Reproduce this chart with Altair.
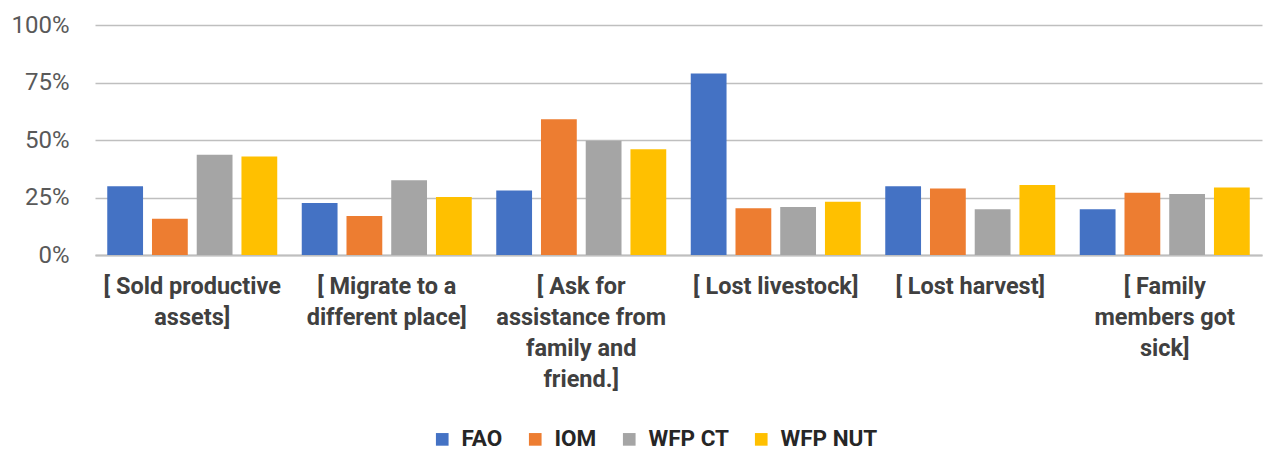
import altair as alt
import pandas as pd

categories = [
    "[ Sold productive|assets]",
    "[ Migrate to a|different place]",
    "[ Ask for|assistance from|family and|friend.]",
    "[ Lost livestock]",
    "[ Lost harvest]",
    "[ Family|members got|sick]",
]
series = ["FAO", "IOM", "WFP CT", "WFP NUT"]
colors = ["#4472C4", "#ED7D31", "#A5A5A5", "#FFC000"]

fao = [0.299, 0.226, 0.280, 0.789, 0.299, 0.199]
iom = [0.158, 0.170, 0.590, 0.203, 0.289, 0.271]
wfp_ct = [0.436, 0.325, 0.497, 0.209, 0.199, 0.265]
wfp_nut = [0.428, 0.252, 0.460, 0.232, 0.304, 0.293]

rows = []
for name, vals in zip(series, [fao, iom, wfp_ct, wfp_nut]):
    for c, v in zip(categories, vals):
        rows.append({"category": c, "series": name, "value": v})
df = pd.DataFrame(rows)

FONT = "Roboto"

chart = alt.Chart(df).mark_bar().encode(
    x=alt.X(
        "category:N",
        sort=categories,
        title=None,
        scale=alt.Scale(paddingInner=0.126, paddingOuter=0.063),
        axis=alt.Axis(
            labelAngle=0,
            labelExpr="split(datum.label, '|')",
            labelFont=FONT,
            labelFontSize=23.5,
            labelFontWeight="bold",
            labelColor="#404040",
            labelLineHeight=31,
            labelPadding=19,
            labelBaseline="top",
            ticks=False,
            domainColor="#BFBFBF",
            domainWidth=2,
            labelLimit=400,
        ),
    ),
    xOffset=alt.XOffset(
        "series:N", sort=series, scale=alt.Scale(paddingInner=0.2, paddingOuter=0)
    ),
    y=alt.Y(
        "value:Q",
        title=None,
        scale=alt.Scale(domain=[0, 1], nice=False),
        axis=alt.Axis(
            values=[0, 0.25, 0.5, 0.75, 1.0],
            format=".0%",
            labelFont=FONT,
            labelFontSize=24,
            labelColor="#595959",
            labelPadding=26,
            ticks=False,
            domain=False,
            gridColor="#BFBFBF",
            gridWidth=1.5,
        ),
    ),
    color=alt.Color(
        "series:N",
        sort=series,
        scale=alt.Scale(domain=series, range=colors),
        legend=alt.Legend(
            title=None,
            orient="none",
            direction="horizontal",
            legendX=336,
            legendY=403,
            symbolType="square",
            symbolSize=160,
            symbolStrokeWidth=0,
            labelFont=FONT,
            labelFontSize=22.5,
            labelFontWeight="bold",
            labelColor="#262626",
            labelOffset=8,
            labelLimit=300,
            columnPadding=21,
        ),
    ),
).properties(
    width=1167,
    height=230,
    autosize=alt.AutoSizeParams(type="none"),
    padding={"left": 95, "top": 25, "right": 8, "bottom": 197},
).configure(background="white").configure_view(stroke=None)

chart.save("out.html", embed_options={"renderer": "svg", "actions": False})
